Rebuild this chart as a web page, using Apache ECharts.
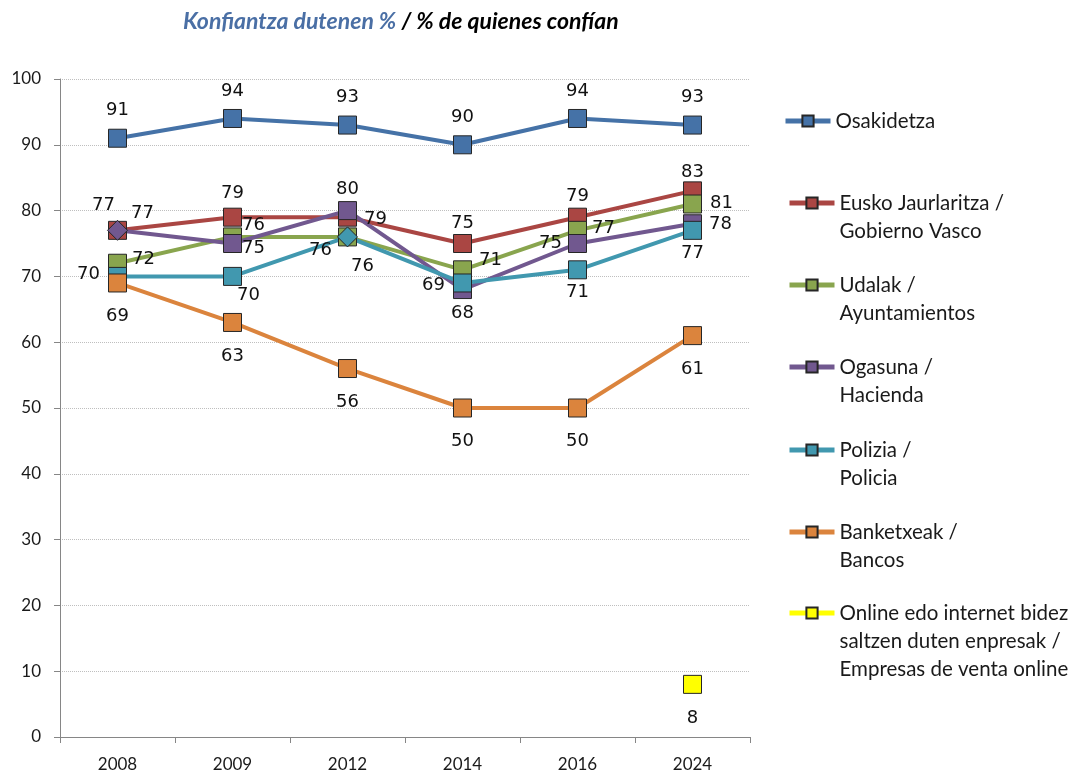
<!DOCTYPE html>
<html>
<head>
	<meta charset="utf-8">
	<script src="https://cdn.jsdelivr.net/npm/echarts@6/dist/echarts.min.js"></script>
	<style>
		html, body { margin: 0; padding: 0; background: #fff; }
	</style>
</head>
<body>
	<div id="main" style="width: 1083px; height: 773px"></div>
	<script type="text/javascript">
		// urteak / años
		var years = ['2008', '2009', '2012', '2014', '2016', '2024'];
		// konfiantza dutenen % / % de quienes confían
		var osakidetza = [91, 94, 93, 90, 94, 93];
		var euskoJaurlaritza = [77, 79, 79, 75, 79, 83];
		var udalak = [72, 76, 76, 71, 77, 81];
		var ogasuna = [77, 75, 80, 68, 75, 78];
		var polizia = [70, 70, 76, 69, 71, 77];
		var banketxeak = [69, 63, 56, 50, 50, 61];
		var onlineEnpresak = ['-', '-', '-', '-', '-', 8];

		// etiketen kokapena: [posizioa, dx, dy]
		var T = ['top', 0, -4], B = ['bottom', 0, 10];
		var placeOsakidetza = [T, T, T, T, T, T];
		var placeEusko = [['top', -14, -2], ['top', 0, 0], ['right', 2, 2], ['top', 0, 3], ['top', 0, 3], ['top', 0, 5]];
		var placeUdalak = [['right', 0, -4], ['right', -5, -12], ['bottom', 15, 6], ['right', 2, -9], ['right', 0, -2], ['right', 3, -1]];
		var placeOgasuna = [['right', -2, -17], ['right', -5, 5], ['top', 0, 2], ['bottom', 0, 0], ['left', -1, 0], ['right', 2, 1]];
		var placePolizia = [['left', -3, -2], ['bottom', 16, -5], ['left', 0, 13], ['left', -3, 2], ['bottom', 0, -1], ['bottom', 0, -1]];
		var placeBanketxeak = [B, B, B, B, B, B];
		var placeOnline = [B, B, B, B, B, B];

		var colors = ['#4572A7', '#AA4643', '#89A54E', '#71588F', '#4198AF', '#DB843D', '#FFFF00'];

		function makeData(values, places, diamonds) {
			return values.map(function (v, i) {
				var p = places[i];
				var item = { value: v, label: { position: p[0], offset: [p[1], p[2]] } };
				if (diamonds && diamonds.indexOf(i) >= 0) { item.symbol = 'diamond'; item.symbolSize = 20; }
				return item;
			});
		}

		function makeSeries(name, values, places, color, diamonds) {
			return {
				name: name, type: 'line',
				data: makeData(values, places, diamonds),
				symbol: 'rect', symbolSize: 18,
				lineStyle: { color: color, width: 4 },
				itemStyle: { color: color, borderColor: '#262626', borderWidth: 1 },
				label: { show: true, distance: 5, fontFamily: 'DejaVu Sans', fontSize: 18, color: '#111' },
				emphasis: { disabled: true },
				animation: false
			};
		}

		var names = [
			'Osakidetza',
			'Eusko Jaurlaritza /\nGobierno Vasco',
			'Udalak /\nAyuntamientos',
			'Ogasuna /\nHacienda',
			'Polizia /\nPolicia',
			'Banketxeak /\nBancos',
			'Online edo internet bidez\nsaltzen duten enpresak /\nEmpresas de venta online'
		];
		var legendY = [121, 203, 285, 367, 450, 532, 613];

		// legendaren ikonoa lehen lerroarekin lerrokatzeko, hutsuneko lerroak aurretik
		function makeLegend(i) {
			var lines = names[i].split('\n').length;
			var pre = new Array(lines).join('\n');
			return {
				data: [names[i]], left: i === 0 ? 783 : 787, top: legendY[i] - (2 * lines - 1) * 14,
				orient: 'vertical', padding: 0, itemWidth: 45, itemHeight: 14,
				selectedMode: false,
				lineStyle: { width: 5 },
				formatter: function (n) { return pre + n; },
				textStyle: { fontFamily: 'Lato', fontSize: 20.5, color: '#1a1a1a', lineHeight: 28 }
			};
		}

		var myChart = echarts.init(document.getElementById('main'));
		var option = {
			backgroundColor: '#fff',
			color: colors,
			title: {
				text: '{a|Konfiantza dutenen %} {b|/ % de quienes confían}',
				left: 178, top: 5,
				textStyle: {
					rich: {
						a: { fontFamily: 'Lato', fontSize: 23, fontWeight: 'bold', fontStyle: 'italic', color: '#4A6FA5' },
						b: { fontFamily: 'Lato', fontSize: 23, fontWeight: 'bold', fontStyle: 'italic', color: '#000' }
					}
				}
			},
			legend: names.map(function (n, i) { return makeLegend(i); }),
			grid: { left: 60, right: 333, top: 79, bottom: 36, containLabel: false },
			xAxis: {
				type: 'category', data: years, boundaryGap: true,
				axisLine: { lineStyle: { color: '#868686', width: 1 } },
				axisTick: { show: true, length: 6, lineStyle: { color: '#868686' } },
				axisLabel: { margin: 19, fontFamily: 'Lato', fontSize: 17, color: '#1a1a1a' }
			},
			yAxis: {
				type: 'value', min: 0, max: 100, interval: 10,
				axisLine: { show: true, lineStyle: { color: '#868686', width: 1 } },
				axisTick: { show: true, length: 6, lineStyle: { color: '#868686' } },
				axisLabel: { margin: 19, fontFamily: 'Lato', fontSize: 17, color: '#1a1a1a' },
				splitLine: { lineStyle: { color: '#bfbfbf', type: 'dotted', width: 1 } }
			},
			series: [
				makeSeries(names[0], osakidetza, placeOsakidetza, colors[0]),
				makeSeries(names[1], euskoJaurlaritza, placeEusko, colors[1]),
				makeSeries(names[2], udalak, placeUdalak, colors[2]),
				makeSeries(names[3], ogasuna, placeOgasuna, colors[3], [0]),
				makeSeries(names[4], polizia, placePolizia, colors[4], [2]),
				makeSeries(names[5], banketxeak, placeBanketxeak, colors[5]),
				makeSeries(names[6], onlineEnpresak, placeOnline, colors[6])
			]
		};
		myChart.setOption(option);
	</script>
</body>
</html>
